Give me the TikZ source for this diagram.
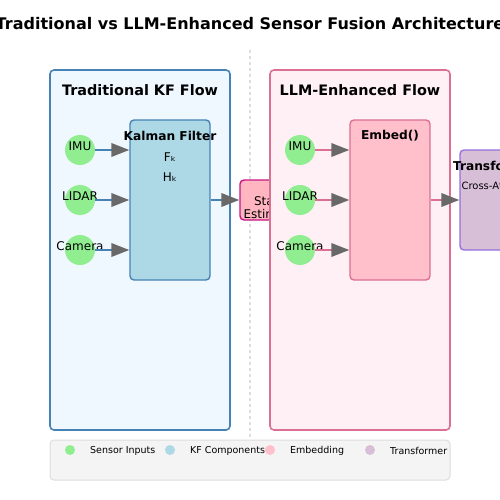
\documentclass[tikz,border=0pt]{standalone}
\usepackage{fontspec}
\setmainfont{DejaVu Sans}
\usepackage{tikz}
\usetikzlibrary{arrows.meta}
\definecolor{kfblue}{HTML}{4682B4}
\definecolor{kfback}{HTML}{F0F8FF}
\definecolor{llmrose}{HTML}{DB7093}
\definecolor{llmback}{HTML}{FFF0F5}
\definecolor{sensorgreen}{HTML}{90EE90}
\definecolor{kffill}{HTML}{ADD8E6}
\definecolor{embedfill}{HTML}{FFC0CB}
\definecolor{statefill}{HTML}{FFB6C1}
\definecolor{stateedge}{HTML}{C71585}
\definecolor{tffill}{HTML}{D8BFD8}
\definecolor{tfedge}{HTML}{9370DB}
\definecolor{headgray}{HTML}{696969}
\definecolor{legendfill}{HTML}{F4F4F4}
\definecolor{legendedge}{HTML}{DDDDDD}
\tikzset{
	panel/.style={
		rectangle,
		rounded corners=4pt,
		line width=1.6pt,
		minimum width=180pt,
		minimum height=360pt,
		inner sep=0,
	},
	block/.style={
		rectangle,
		rounded corners=4pt,
		line width=1.4pt,
		inner sep=0,
	},
	sensor/.style={
		circle,
		minimum size=30pt,
		fill=sensorgreen,
		inner sep=0,
		outer sep=0,
	},
	legenddot/.style={
		circle,
		minimum size=10pt,
		inner sep=0,
	},
	feed/.style={
		line width=2pt,
		-{Triangle[length=18pt,width=13.5pt,color=headgray]},
	},
	boldtext/.style={
		font=\bfseries\fontsize{12.2}{14}\selectfont,
		inner sep=0,
	},
	plaintext/.style={
		font=\fontsize{12}{13}\selectfont,
		inner sep=0,
	},
	smalltext/.style={
		font=\fontsize{9.5}{11}\selectfont,
		inner sep=0,
		anchor=west,
	},
}
\begin{document}
\begin{tikzpicture}[x=1pt,y=-1pt]
	\useasboundingbox (0,0) rectangle (500,500);
	
	\node[font=\bfseries\fontsize{16}{19}\selectfont] (title) at (250,24) {Traditional vs LLM-Enhanced Sensor Fusion Architecture};
	\draw[legendedge,line width=1.2pt,dashed] (250,50) -- (250,440);
	
	% traditional side
	\node[panel,draw=kfblue,fill=kfback] (kfpanel) at (140,250) {};
	\node[boldtext,font=\bfseries\fontsize{14.4}{17}\selectfont] (kftitle) at (140,90) {Traditional KF Flow};
	\node[block,draw=kfblue,fill=kffill,minimum width=80pt,minimum height=160pt] (kf) at (170,200) {};
	\node[boldtext] (kfname) at (170,136) {Kalman Filter};
	\node[plaintext] (fk) at (170,157) {Fₖ};
	\node[plaintext] (hk) at (170,177) {Hₖ};
	
	\node[sensor] (imu1) at (80,150) {};
	\node[sensor] (lidar1) at (80,200) {};
	\node[sensor] (cam1) at (80,250) {};
	\node[plaintext] at (80,146) {IMU};
	\node[plaintext] at (80,196) {LIDAR};
	\node[plaintext] at (80,246) {Camera};
	
	\draw[feed,kfblue] (imu1.east) -- (imu1.east -| kf.west);
	\draw[feed,kfblue] (lidar1.east) -- (lidar1.east -| kf.west);
	\draw[feed,kfblue] (cam1.east) -- (cam1.east -| kf.west);
	
	\node[block,draw=stateedge,fill=statefill,minimum width=60pt,minimum height=40pt] (state) at (270,200) {};
	\node[plaintext,align=center] (statetext) at (270,208) {State\\Estimate};
	\draw[feed,kfblue] (kf.east) -- (state.west);
	
	% llm side
	\node[panel,draw=llmrose,fill=llmback] (llmpanel) at (360,250) {};
	\node[boldtext,font=\bfseries\fontsize{14.4}{17}\selectfont] (llmtitle) at (360,90) {LLM-Enhanced Flow};
	\node[block,draw=llmrose,fill=embedfill,minimum width=80pt,minimum height=160pt] (embed) at (390,200) {};
	\node[boldtext] (embedname) at (390,136) {Embed()};
	
	\node[sensor] (imu2) at (300,150) {};
	\node[sensor] (lidar2) at (300,200) {};
	\node[sensor] (cam2) at (300,250) {};
	\node[plaintext] at (300,146) {IMU};
	\node[plaintext] at (300,196) {LIDAR};
	\node[plaintext] at (300,246) {Camera};
	
	\draw[feed,llmrose] (imu2.east) -- (imu2.east -| embed.west);
	\draw[feed,llmrose] (lidar2.east) -- (lidar2.east -| embed.west);
	\draw[feed,llmrose] (cam2.east) -- (cam2.east -| embed.west);
	
	\node[block,draw=tfedge,fill=tffill,minimum width=70pt,minimum height=100pt] (tf) at (495,200) {};
	\node[boldtext] (tfname) at (495,166) {Transformer};
	\node[plaintext,font=\fontsize{10}{12}\selectfont] (xattn) at (500,186) {Cross-Attention};
	\draw[feed,llmrose] (embed.east) -- (tf.west);
	
	% legend
	\node[block,draw=legendedge,fill=legendfill,line width=1pt,minimum width=400pt,minimum height=40pt] (legend) at (250,460) {};
	\node[legenddot,fill=sensorgreen] (dot1) at (70,450) {};
	\node[legenddot,fill=kffill] (dot2) at (170,450) {};
	\node[legenddot,fill=embedfill] (dot3) at (270,450) {};
	\node[legenddot,fill=tffill] (dot4) at (370,450) {};
	\node[smalltext] at (90,451) {Sensor Inputs};
	\node[smalltext] at (190,451) {KF Components};
	\node[smalltext] at (290,451) {Embedding};
	\node[smalltext] at (390,451) {Transformer};
	
\end{tikzpicture}
\end{document}
